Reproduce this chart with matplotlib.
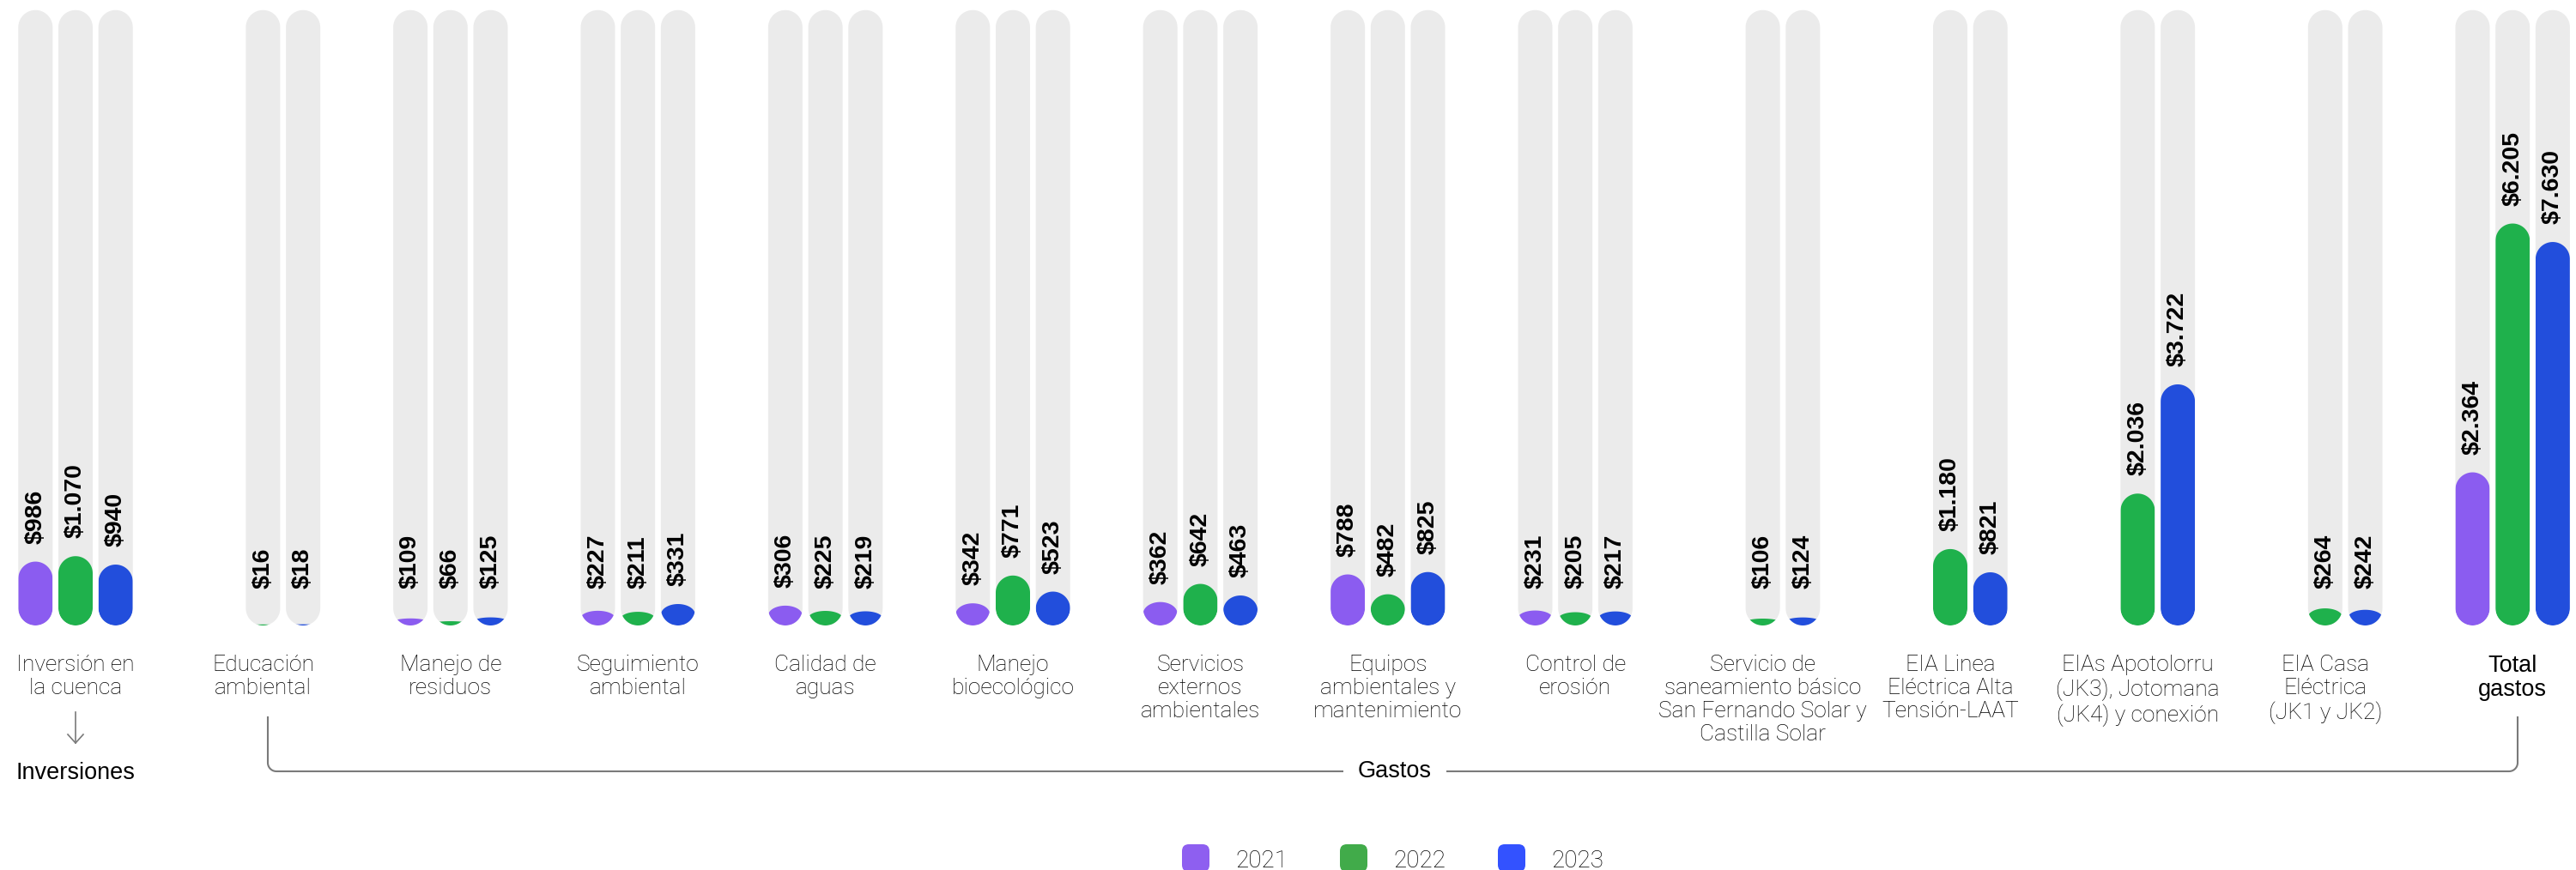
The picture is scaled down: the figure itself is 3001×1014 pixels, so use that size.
#!/usr/bin/python

import numpy as np
from matplotlib import patches
from matplotlib import pyplot
from matplotlib.path import Path

CATEGORIES = [
    'Inversión en\nla cuenca',
    'Educación\nambiental',
    'Manejo de\nresiduos',
    'Seguimiento\nambiental',
    'Calidad de\naguas',
    'Manejo\nbioecológico',
    'Servicios\nexternos\nambientales',
    'Equipos\nambientales y\nmantenimiento',
    'Control de\nerosión',
    'Servicio de\nsaneamiento básico\nSan Fernando Solar y\nCastilla Solar',
    'EIA Linea\nEléctrica Alta\nTensión-LAAT',
    'EIAs Apotolorru\n(JK3), Jotomana\n(JK4) y conexión',
    'EIA Casa\nEléctrica\n(JK1 y JK2)',
    'Total\ngastos',
]
YEARS = ['2021', '2022', '2023']
VALUES_2021 = [986, None, 109, 227, 306, 342, 362, 788, 231,
               None, None, None, None, 2364]
VALUES_2022 = [1070, 16, 66, 211, 225, 771, 642, 482, 205,
               106, 1180, 2036, 264, 6205]
VALUES_2023 = [940, 18, 125, 331, 219, 523, 463, 825, 217,
               124, 821, 3722, 242, 7630]
# The source draws the 2023 total shorter than its $7.630 label says;
# this is the length that bar has in the picture.
BAR_LENGTH_OVERRIDE = {(2, 13): 5920}
TRACK_MAX = 9500

COLORS = ['#8b5cf0', '#1fb14c', '#224edc']
LEGEND_COLORS = ['#8e5ff0', '#41ab4a', '#3352ff']
TRACK_COLOR = '#ebebeb'
LINE_COLOR = '#7a7a7a'

W, H = 3001, 1014
BASE_PX = 729
PX_PER_UNIT = 0.0755
GROUP_X0 = 88
GROUP_STEP = 218.4
BAR_PITCH = 46.7
HALF_W = 20

LIGHT = ['Roboto', 'DejaVu Sans']
PLAIN = ['Liberation Sans', 'DejaVu Sans']


def capsule_path(xc, length, half_w, upp):
  ry = min(half_w * upp, length / 2.0)
  t = np.linspace(0, np.pi, 48)
  top = np.column_stack([xc + half_w * np.cos(t), length - ry + ry * np.sin(t)])
  bot = np.column_stack([xc - half_w * np.cos(t), ry - ry * np.sin(t)])
  verts = np.vstack([top, bot, top[:1]])
  codes = [Path.MOVETO] + [Path.LINETO] * (len(verts) - 2) + [Path.CLOSEPOLY]
  return Path(verts, codes)


def money(v):
  return '$' + '{:,}'.format(v).replace(',', '.')


def main():
  fig = pyplot.figure(figsize=(W / 100.0, H / 100.0), dpi=100)
  ax = fig.add_axes([0, 0, 1, 1])
  ax.set_xlim(0, W)
  ax.set_ylim(-(H - BASE_PX) / PX_PER_UNIT, BASE_PX / PX_PER_UNIT)
  ax.axis('off')
  upp = 1.0 / PX_PER_UNIT

  ov = fig.add_axes([0, 0, 1, 1])
  ov.set_xlim(0, W)
  ov.set_ylim(H, 0)
  ov.axis('off')
  ov.patch.set_alpha(0)

  series = [VALUES_2021, VALUES_2022, VALUES_2023]
  for i, cat in enumerate(CATEGORIES):
    gx = GROUP_X0 + i * GROUP_STEP
    for j, vals in enumerate(series):
      v = vals[i]
      if v is None:
        continue
      bx = gx + (j - 1) * BAR_PITCH
      track = patches.PathPatch(
          capsule_path(bx, TRACK_MAX, HALF_W, upp),
          facecolor=TRACK_COLOR, edgecolor='none')
      ax.add_patch(track)
      length = BAR_LENGTH_OVERRIDE.get((j, i), v)
      bar = patches.PathPatch(
          capsule_path(bx, length, HALF_W, upp),
          facecolor=COLORS[j], edgecolor='none')
      ax.add_patch(bar)
      bar.set_clip_path(track)
      ax.text(bx, max(length, 22 * upp) + 21 * upp, money(v),
              rotation=90, ha='center', va='bottom', fontsize=20.5,
              fontweight='bold', family=PLAIN, color='black')
    if i == len(CATEGORIES) - 1:
      ov.text(gx, 763, cat, ha='center', va='top', fontsize=19.5,
              linespacing=1.12, family=PLAIN, color='black')
    else:
      ov.text(gx, 763, cat, ha='center', va='top', fontsize=19,
              linespacing=1.16, family=LIGHT, fontweight='light',
              color='black')

  # Inversiones marker
  ov.plot([GROUP_X0, GROUP_X0], [830, 866], color=LINE_COLOR, lw=1.2)
  ov.plot([GROUP_X0 - 9, GROUP_X0, GROUP_X0 + 9], [856, 866, 856],
          color=LINE_COLOR, lw=1.2)
  ov.text(GROUP_X0, 908, 'Inversiones', ha='center', va='baseline',
          fontsize=19.5, family=PLAIN, color='black')

  # Gastos bracket
  x0, x1, ytop, ybot, rad = 312, 2933, 836, 899, 10
  t = np.linspace(0, np.pi / 2, 12)
  left_arc = np.column_stack([x0 + rad - rad * np.cos(t),
                              ybot - rad + rad * np.sin(t)])
  right_arc = np.column_stack([x1 - rad + rad * np.sin(t),
                               ybot - rad + rad * np.cos(t)])
  pts = np.vstack([[[x0, ytop]], left_arc, right_arc, [[x1, ytop]]])
  ov.plot(pts[:, 0], pts[:, 1], color=LINE_COLOR, lw=1.5,
          solid_joinstyle='round')
  ov.text(1625, 899, 'Gastos', ha='center', va='center', fontsize=19.5,
          family=PLAIN, color='black',
          bbox=dict(facecolor='white', edgecolor='none', pad=12))

  # legend
  for j, year in enumerate(YEARS):
    mx = 1393 + j * 184
    ov.add_patch(patches.FancyBboxPatch(
        (mx - 16, 984), 32, 32, boxstyle='round,pad=0,rounding_size=8',
        facecolor=LEGEND_COLORS[j], edgecolor='none'))
    ov.text(mx + 46, 1011, year, ha='left', va='baseline', fontsize=20,
            family=LIGHT, fontweight='light', color='black')

  fig.savefig('out.png', dpi=100)


if __name__ == '__main__':
  main()
